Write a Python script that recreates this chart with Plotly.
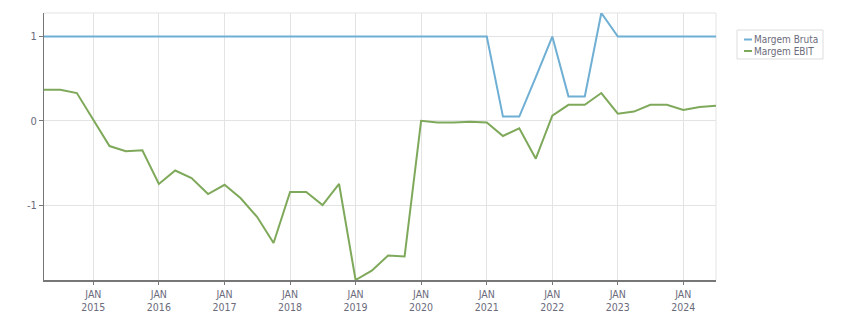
import plotly.graph_objects as go
import pandas as pd

dates = pd.date_range("2014-04-01", "2024-07-01", freq="QS").strftime("%Y-%m-%d").tolist()

margem_bruta = [1, 1, 1, 1, 1, 1, 1, 1, 1, 1, 1, 1, 1, 1, 1, 1, 1, 1, 1, 1,
                1, 1, 1, 1, 1, 1, 1, 1, 0.05, 0.05, 0.52, 1.0, 0.29, 0.29, 1.28, 1.0,
                1, 1, 1, 1, 1, 1]
margem_ebit = [0.37, 0.37, 0.33, 0.01, -0.30, -0.36, -0.35, -0.75, -0.59, -0.68,
               -0.87, -0.76, -0.92, -1.14, -1.45, -0.845, -0.845, -1.0, -0.75, -1.89,
               -1.78, -1.60, -1.61, 0.0, -0.02, -0.02, -0.01, -0.02, -0.18, -0.09,
               -0.45, 0.06, 0.19, 0.19, 0.33, 0.085, 0.11, 0.19, 0.19, 0.13,
               0.165, 0.18]

series_names = ["Margem Bruta", "Margem EBIT"]
series_colors = ["#6fafd4", "#7fa95a"]

tick_dates = [f"{y}-01-01" for y in range(2015, 2025)]
tick_labels = [f"JAN<br>{y}" for y in range(2015, 2025)]
y_ticks = [-1, 0, 1]

FONT = "DejaVu Sans Condensed, DejaVu Sans"
TXT = "#6b6b7b"

y_min = min(margem_bruta + margem_ebit)
y_max = max(margem_bruta + margem_ebit)

fig = go.Figure()
for name, color, vals in zip(series_names, series_colors, [margem_bruta, margem_ebit]):
    fig.add_trace(go.Scatter(x=dates, y=vals, mode="lines", name=name,
                             line=dict(color=color, width=2), showlegend=False))

# plot area in pixels: x 44..716, y 13..280
W, L, T, B = 851, 44, 13, 280
def px_x(p):
    return (p - L) / (W - 135 - L)
def px_y(p):
    return (B - p) / (B - T)

shapes = [
    dict(type="line", xref="paper", yref="paper", x0=0, x1=1, y0=1, y1=1,
         line=dict(color="#e3e3e3", width=1), layer="below"),
    dict(type="line", xref="paper", yref="paper", x0=1, x1=1, y0=0, y1=1,
         line=dict(color="#e3e3e3", width=1), layer="below"),
    # legend box
    dict(type="rect", xref="paper", yref="paper", x0=px_x(737), x1=px_x(823),
         y0=px_y(59), y1=px_y(30), line=dict(color="#dddddd", width=1),
         fillcolor="white"),
]
annotations = []
for i, (name, color) in enumerate(zip(series_names, series_colors)):
    yy = 39.5 + i * 11.5
    shapes.append(dict(type="line", xref="paper", yref="paper",
                       x0=px_x(744), x1=px_x(752), y0=px_y(yy), y1=px_y(yy),
                       line=dict(color=color, width=2)))
    annotations.append(dict(xref="paper", yref="paper", x=px_x(752), y=px_y(yy),
                            xanchor="left", yanchor="middle", showarrow=False,
                            text=name, font=dict(family=FONT, size=10, color=TXT)))

fig.update_layout(
    width=851, height=313,
    margin=dict(l=44, r=135, t=13, b=33, autoexpand=False),
    paper_bgcolor="white", plot_bgcolor="white",
    font=dict(family=FONT, size=10, color=TXT),
    showlegend=False,
    xaxis=dict(type="date", tickvals=tick_dates, ticktext=tick_labels,
               range=[dates[0], dates[-1]], automargin=False,
               showgrid=True, gridcolor="#e3e3e3", gridwidth=1,
               showline=True, linecolor="#777777", linewidth=2,
               ticks="outside", ticklen=3, tickcolor="#777777",
               tickfont=dict(family=FONT, size=10.5, color=TXT), zeroline=False),
    yaxis=dict(tickvals=y_ticks, ticktext=[str(v) for v in y_ticks],
               range=[y_min, y_max], automargin=False,
               showgrid=True, gridcolor="#e3e3e3", gridwidth=1,
               showline=True, linecolor="#777777", linewidth=1,
               ticks="outside", ticklen=4, tickcolor="#777777",
               tickfont=dict(family=FONT, size=11, color=TXT), zeroline=False),
    shapes=shapes,
    annotations=annotations,
)

fig.write_html("out.html")
